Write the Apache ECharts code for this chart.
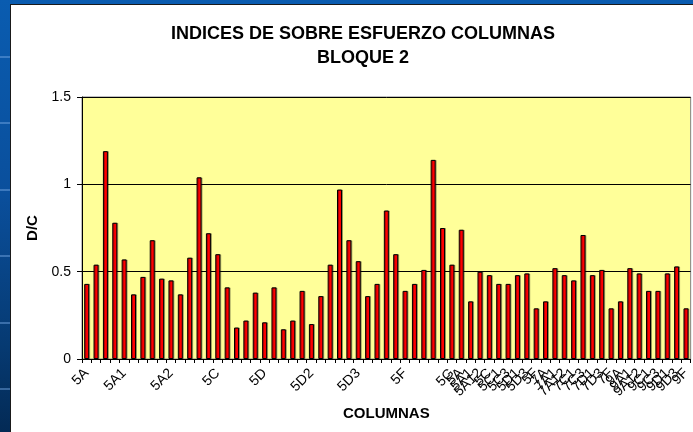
<!DOCTYPE html>
<html><head><meta charset="utf-8">
<title>Indices de sobre esfuerzo columnas - Bloque 2</title>
<script src="https://cdn.jsdelivr.net/npm/echarts@6/dist/echarts.min.js"></script>
<style type="text/css">
  html, body { margin: 0; padding: 0; }
  body {
    width: 693px; height: 432px; overflow: hidden; position: relative;
    background:
      repeating-linear-gradient(to bottom, transparent 0, transparent 56px,
        rgba(120,170,230,0.45) 56px, rgba(120,170,230,0.45) 58px, transparent 58px, transparent 66.5px),
      linear-gradient(to bottom, #0a5cb0 0%, #0a4f9c 45%, #063a72 80%, #032a55 100%);
  }
  #frame {
    position: absolute; left: 10px; top: 4px; right: -2px; bottom: -2px;
    background: #fff; border: 1px solid #1a1a1a;
  }
  #main { position: absolute; left: 0; top: 0; width: 693px; height: 432px; }
</style>
</head>
<body>
<div id="frame"></div>
<div id="main"></div>

<script type="text/javascript">
  // column labels (Excel shows every cell of the label range, most are blank on the left)
  var columnas = [
    '5A', '', '', '', '5A1', '', '', '', '', '5A2',
    '', '', '', '', '5C', '', '', '', '', '5D',
    '', '', '', '', '5D2', '', '', '', '', '5D3',
    '', '', '', '', '5F', '', '', '', '', '5G',
    '5A', '5A1', '5A12', '5C', '5C1', '5C3', '5D1', '5D3', '5F', '7A',
    '7A1', '7A12', '7C1', '7C3', '7D1', '7D3', '7F', '9A', '9A1', '9A12',
    '9C1', '9C3', '9D1', '9D3', '9F'
  ];

  // D/C ratio per column
  var indices = [
    0.43, 0.54, 1.19, 0.78, 0.57, 0.37, 0.47, 0.68, 0.46, 0.45,
    0.37, 0.58, 1.04, 0.72, 0.60, 0.41, 0.18, 0.22, 0.38, 0.21,
    0.41, 0.17, 0.22, 0.39, 0.20, 0.36, 0.54, 0.97, 0.68, 0.56,
    0.36, 0.43, 0.85, 0.60, 0.39, 0.43, 0.51, 1.14, 0.75, 0.54,
    0.74, 0.33, 0.50, 0.48, 0.43, 0.43, 0.48, 0.49, 0.29, 0.33,
    0.52, 0.48, 0.45, 0.71, 0.48, 0.51, 0.29, 0.33, 0.52, 0.49,
    0.39, 0.39, 0.49, 0.53, 0.29
  ];

  var yTicks = [0, 0.5, 1, 1.5];

  var FONT = 'Liberation Sans, Arial, sans-serif';

  var chart = echarts.init(document.getElementById('main'));
  chart.setOption({
    animation: false,
    title: {
      text: 'INDICES DE SOBRE ESFUERZO COLUMNAS\nBLOQUE 2',
      left: 358,
      top: 17,
      textAlign: 'center',
      textStyle: { fontFamily: FONT, fontSize: 18, fontWeight: 'bold', color: '#000', lineHeight: 24 }
    },
    grid: {
      left: 82, top: 97, right: -5, bottom: 73,
      show: true, backgroundColor: '#FFFF99', borderColor: '#808080', borderWidth: 1
    },
    xAxis: {
      type: 'category',
      data: columnas,
      name: 'COLUMNAS',
      nameLocation: 'middle',
      nameGap: 45,
      nameTextStyle: { fontFamily: FONT, fontSize: 15, fontWeight: 'bold', color: '#000' },
      axisLine: { lineStyle: { color: '#000', width: 1 } },
      axisTick: { show: true, interval: 0, length: 4, lineStyle: { color: '#000' } },
      axisLabel: { interval: 0, rotate: 45, margin: 12, fontFamily: FONT, fontSize: 14, color: '#000' },
      splitLine: { show: false }
    },
    yAxis: {
      type: 'value',
      min: yTicks[0],
      max: yTicks[yTicks.length - 1],
      interval: 0.5,
      name: 'D/C',
      nameLocation: 'middle',
      nameGap: 42,
      nameTextStyle: { fontFamily: FONT, fontSize: 15, fontWeight: 'bold', color: '#000' },
      axisLine: { show: true, lineStyle: { color: '#000', width: 1 } },
      axisTick: { show: true, length: 5, lineStyle: { color: '#000' } },
      axisLabel: { margin: 11, fontFamily: FONT, fontSize: 14, color: '#000' },
      splitLine: { show: true, lineStyle: { color: '#000', width: 1 } }
    },
    series: [{
      name: 'D/C',
      type: 'bar',
      data: indices,
      barWidth: 5,
      itemStyle: {
        color: '#FF0000',
        borderColor: '#000',
        borderWidth: 1,
        shadowColor: 'rgba(0,0,0,0.3)',
        shadowOffsetX: 1,
        shadowOffsetY: 0,
        shadowBlur: 0
      }
    }]
  });
</script>
</body></html>
